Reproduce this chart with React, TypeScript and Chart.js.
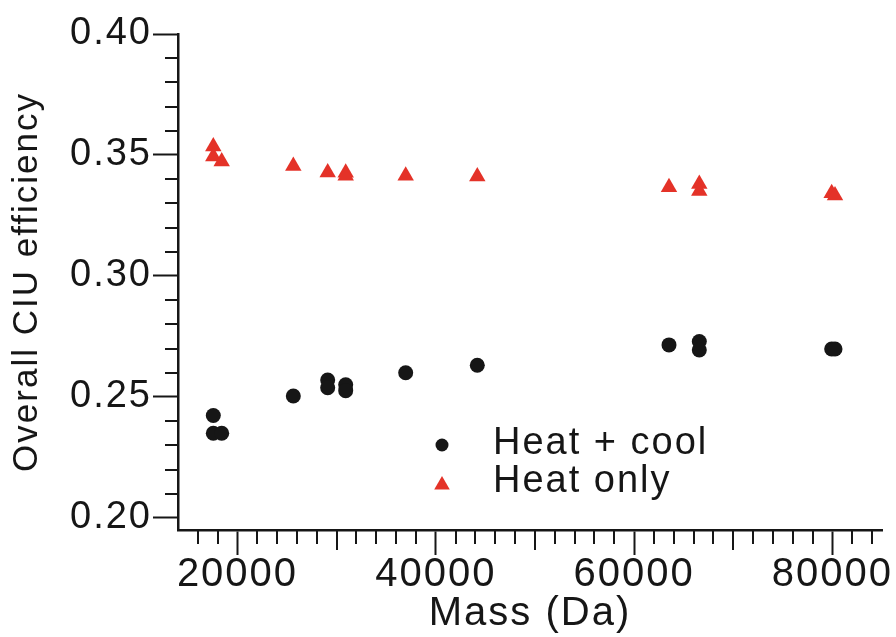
import React, { useEffect, useRef } from 'react';
import { Chart, registerables } from 'chart.js';

Chart.register(...registerables);

// ---- data ----
const seriesLabels = ['Heat + cool', 'Heat only'];
const heatCoolMass = [17560, 17560, 18407, 25630, 29097, 29097, 30913, 30913, 36963, 44185, 63518, 66574, 66574, 79925, 80260];
const heatCoolEff = [0.2423, 0.2350, 0.2350, 0.2504, 0.2570, 0.2538, 0.2550, 0.2526, 0.2600, 0.2631, 0.2715, 0.2729, 0.2694, 0.2698, 0.2698];
const heatOnlyMass = [17560, 17560, 18407, 25630, 29097, 30913, 30913, 36963, 44185, 63518, 66574, 66574, 79925, 80260];
const heatOnlyEff = [0.3535, 0.3494, 0.3473, 0.3454, 0.3428, 0.3427, 0.3414, 0.3414, 0.3411, 0.3367, 0.3380, 0.3351, 0.3342, 0.3332];
const xTickValues = [20000, 40000, 60000, 80000];
const yTickValues = [0.2, 0.25, 0.3, 0.35, 0.4];
const xTitle = 'Mass (Da)';
const yTitle = 'Overall CIU efficiency';

// ---- style ----
const FONT = '"Liberation Sans", Arial, Helvetica, sans-serif';
const INK = '#161616';
const RED = 'rgb(228, 50, 40)';
const X_MIN = 14000;
const X_MAX = 85000;
const Y_MIN = 0.195;
const Y_MAX = 0.4;

const spacingPlugin = {
  id: 'spacingPlugin',
  beforeDraw(chart: any) {
    (chart.ctx as any).letterSpacing = '2px';
  },
};

const minorTicksPlugin = {
  id: 'minorTicksPlugin',
  afterDraw(chart: any) {
    const { ctx, chartArea } = chart;
    const xs = chart.scales.x;
    const ys = chart.scales.y;
    ctx.save();
    ctx.strokeStyle = INK;
    ctx.lineWidth = 2;
    ctx.beginPath();
    for (let v = 16000; v <= X_MAX; v += 2000) {
      if (v % 20000 === 0) continue;
      const px = Math.round(xs.getPixelForValue(v));
      const len = v % 10000 === 0 ? 20 : 14;
      ctx.moveTo(px, chartArea.bottom);
      ctx.lineTo(px, chartArea.bottom + len);
    }
    for (let i = 20; i <= 40; i++) {
      if (i % 5 === 0) continue;
      const py = Math.round(ys.getPixelForValue(i / 100));
      ctx.moveTo(chartArea.left - 13, py);
      ctx.lineTo(chartArea.left, py);
    }
    ctx.stroke();
    ctx.restore();
  },
};

const legendPlugin = {
  id: 'customLegend',
  afterDraw(chart: any) {
    const { ctx } = chart;
    const rows = [
      { y: 445, style: 'circle' },
      { y: 483, style: 'triangle' },
    ];
    ctx.save();
    chart.data.datasets.forEach((ds: any, i: number) => {
      const r = rows[i];
      const mx = 442;
      ctx.fillStyle = ds.backgroundColor;
      ctx.beginPath();
      if (r.style === 'circle') {
        ctx.arc(mx, r.y, 6.5, 0, Math.PI * 2);
      } else {
        const rad = 9;
        let a = 0;
        ctx.moveTo(mx + Math.sin(a) * rad, r.y + 2 - Math.cos(a) * rad);
        a += (2 * Math.PI) / 3;
        ctx.lineTo(mx + Math.sin(a) * rad, r.y + 2 - Math.cos(a) * rad);
        a += (2 * Math.PI) / 3;
        ctx.lineTo(mx + Math.sin(a) * rad, r.y + 2 - Math.cos(a) * rad);
        ctx.closePath();
      }
      ctx.fill();
      ctx.fillStyle = INK;
      ctx.font = `38px ${FONT}`;
      ctx.textAlign = 'left';
      ctx.textBaseline = 'middle';
      ctx.fillText(ds.label, 493, r.y - 1);
    });
    ctx.restore();
  },
};

export default function App() {
  const ref = useRef<HTMLCanvasElement>(null);

  useEffect(() => {
    const canvas = ref.current;
    if (!canvas) return;
    const chart = new Chart(canvas, {
      type: 'scatter',
      data: {
        datasets: [
          {
            label: seriesLabels[0],
            data: heatCoolMass.map((m, i) => ({ x: m, y: heatCoolEff[i] })),
            backgroundColor: INK,
            borderColor: INK,
            pointStyle: 'circle',
            pointRadius: 7.5,
            pointBorderWidth: 0,
            clip: false as any,
          },
          {
            label: seriesLabels[1],
            data: heatOnlyMass.map((m, i) => ({ x: m, y: heatOnlyEff[i] })),
            backgroundColor: RED,
            borderColor: RED,
            pointStyle: 'triangle',
            pointRadius: 9.5,
            pointBorderWidth: 0,
            clip: false as any,
          },
        ],
      },
      options: {
        responsive: false,
        animation: false,
        devicePixelRatio: 1,
        layout: { padding: { top: 34, right: 14, bottom: 0, left: 0 } },
        plugins: {
          legend: { display: false },
          tooltip: { enabled: false },
        },
        scales: {
          x: {
            type: 'linear',
            min: X_MIN,
            max: X_MAX,
            afterFit: (s: any) => {
              s.height = 107;
            },
            afterBuildTicks: (s: any) => {
              s.ticks = xTickValues.map((v) => ({ value: v }));
            },
            border: { display: true, color: INK, width: 2.5 },
            grid: {
              display: true,
              drawOnChartArea: false,
              drawTicks: true,
              tickLength: 25,
              tickWidth: 2,
              tickColor: INK,
            },
            ticks: {
              autoSkip: false,
              maxRotation: 0,
              padding: 0,
              color: INK,
              font: { family: FONT, size: 40, lineHeight: 1 },
              callback: (v: any) => String(v),
            },
            title: {
              display: true,
              text: xTitle,
              color: INK,
              font: { family: FONT, size: 40, lineHeight: 1 },
              padding: { top: 0, bottom: 3 },
            },
          },
          y: {
            type: 'linear',
            min: Y_MIN,
            max: Y_MAX,
            afterFit: (s: any) => {
              s.width = 178;
            },
            afterBuildTicks: (s: any) => {
              s.ticks = yTickValues.map((v) => ({ value: v }));
            },
            border: { display: true, color: INK, width: 2.5 },
            grid: {
              display: true,
              drawOnChartArea: false,
              drawTicks: true,
              tickLength: 25,
              tickWidth: 2,
              tickColor: INK,
            },
            ticks: {
              autoSkip: false,
              padding: 1,
              color: INK,
              font: { family: FONT, size: 38, lineHeight: 1 },
              callback: (v: any) => Number(v).toFixed(2),
            },
            title: {
              display: true,
              text: yTitle,
              color: INK,
              font: { family: FONT, size: 35, lineHeight: 1 },
              padding: { top: 10, bottom: 0 },
            },
          },
        },
      },
      plugins: [spacingPlugin, minorTicksPlugin, legendPlugin],
    });
    return () => chart.destroy();
  }, []);

  return (
    <div style={{ position: 'fixed', left: 0, top: 0, width: 896, height: 637, background: '#fff' }}>
      <canvas ref={ref} width={896} height={637} style={{ display: 'block', width: 896, height: 637 }} />
    </div>
  );
}
